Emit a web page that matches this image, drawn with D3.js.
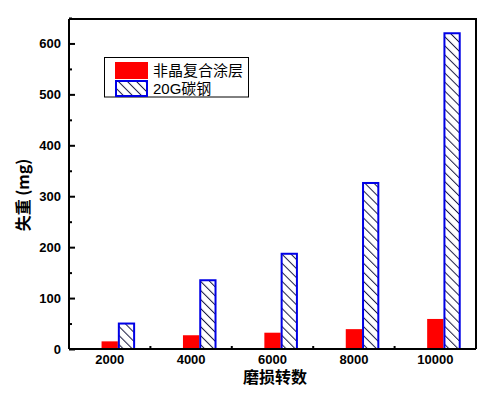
<!DOCTYPE html>
<html>
<head>
<meta charset="utf-8">
<script src="https://cdn.jsdelivr.net/npm/d3@7/dist/d3.min.js"></script>
<style>
  body { margin: 0; background: #fff; }
  text { font-family: "Liberation Sans", Arial, "Noto Sans CJK SC", sans-serif; }
</style>
</head>
<body>
<svg id="chart" width="496" height="395"></svg>
<script>
// wear rounds on the x axis
var categories = ["2000", "4000", "6000", "8000", "10000"];
// mass loss (mg)
var coating = [15, 27, 32, 39, 59];
var steel = [50, 135, 187, 326, 620];
var seriesNames = ["非晶复合涂层", "20G碳钢"];
var yTicks = [0, 100, 200, 300, 400, 500, 600];
var yMinor = [50, 150, 250, 350, 450, 550, 650];

var svg = d3.select("#chart"),
    pl = 69, pr = 476, pt = 19, pb = 349;

svg.append("rect").attr("width", 496).attr("height", 395).attr("fill", "#fff");

var defs = svg.append("defs");
var pat = defs.append("pattern")
    .attr("id", "hatch")
    .attr("patternUnits", "userSpaceOnUse")
    .attr("width", 6.4).attr("height", 6.4)
    .attr("patternTransform", "rotate(-45)");
pat.append("rect").attr("width", 6.4).attr("height", 6.4).attr("fill", "#fff");
pat.append("line").attr("x1", 0.5).attr("y1", 0).attr("x2", 0.5).attr("y2", 6.4)
    .attr("stroke", "#1a1a40").attr("stroke-width", 1);

var x = d3.scaleBand().domain(categories).range([pl, pr]);
var y = d3.scaleLinear().domain([0, 648]).range([pb, pt]);
var bw = x.bandwidth() * 0.2;

// bars
var g = svg.append("g");
g.selectAll("rect.coat")
    .data(coating)
  .enter().append("rect")
    .attr("class", "coat")
    .attr("x", function(d, i) { return x(categories[i]) + x.bandwidth() / 2 - bw / 2; })
    .attr("y", function(d) { return y(d); })
    .attr("width", bw)
    .attr("height", function(d) { return y(0) - y(d); })
    .attr("fill", "#ff0000");

g.selectAll("rect.steel")
    .data(steel)
  .enter().append("rect")
    .attr("class", "steel")
    .attr("x", function(d, i) { return x(categories[i]) + x.bandwidth() / 2 + bw / 2 + 1; })
    .attr("y", function(d) { return y(d); })
    .attr("width", bw - 1)
    .attr("height", function(d) { return y(0) - y(d); })
    .attr("fill", "url(#hatch)")
    .attr("stroke", "#0000e6")
    .attr("stroke-width", 2);

// frame top/right
svg.append("path")
    .attr("d", "M" + pl + "," + pt + "H" + pr + "V" + pb)
    .attr("fill", "none").attr("stroke", "#000").attr("stroke-width", 2);

// y axis
var yAxis = svg.append("g")
    .attr("transform", "translate(" + pl + ",0)")
    .call(d3.axisLeft(y).tickValues(yTicks).tickSize(-6).tickPadding(8));
yAxis.selectAll("text").attr("font-size", 13).attr("font-weight", "bold").attr("fill", "#000")
    .attr("font-family", "Liberation Sans, Arial, sans-serif");
yAxis.selectAll("line").attr("stroke-width", 2);
yAxis.select(".domain").attr("stroke-width", 2).attr("d", "M0," + pb + "V" + pt);

var yMin = svg.append("g")
    .attr("transform", "translate(" + pl + ",0)")
    .call(d3.axisLeft(y).tickValues(yMinor).tickSize(-3).tickFormat(""));
yMin.select(".domain").remove();
yMin.selectAll("line").attr("stroke-width", 2);

// x axis
var xAxis = svg.append("g")
    .attr("transform", "translate(0," + pb + ")")
    .call(d3.axisBottom(x).tickSize(0).tickPadding(6));
xAxis.selectAll("text").attr("font-size", 13).attr("font-weight", "bold").attr("fill", "#000")
    .attr("font-family", "Liberation Sans, Arial, sans-serif");
xAxis.select(".domain").attr("stroke-width", 2).attr("d", "M" + pl + ",0H" + pr);
xAxis.selectAll("line.sep")
    .data(categories.slice(1))
  .enter().append("line")
    .attr("class", "sep")
    .attr("x1", function(d) { return x(d); })
    .attr("x2", function(d) { return x(d); })
    .attr("y1", 0).attr("y2", -3)
    .attr("stroke", "#000").attr("stroke-width", 2);

// axis titles
svg.append("text")
    .attr("transform", "translate(29,195) rotate(-90)")
    .attr("text-anchor", "middle")
    .attr("font-size", 16).attr("font-weight", "bold")
    .style("font-family", "'Noto Sans CJK SC', sans-serif")
    .text("失重 (mg)");

svg.append("text")
    .attr("x", 275).attr("y", 383)
    .attr("text-anchor", "middle")
    .attr("font-size", 16).attr("font-weight", "bold")
    .style("font-family", "'Noto Sans CJK SC', sans-serif")
    .text("磨损转数");

// legend
var lg = svg.append("g");
lg.append("rect").attr("x", 104.5).attr("y", 57.5).attr("width", 144).attr("height", 39.5)
    .attr("fill", "#fff").attr("stroke", "#000").attr("stroke-width", 1);
lg.append("rect").attr("x", 115).attr("y", 62).attr("width", 33).attr("height", 17)
    .attr("fill", "#ff0000");
lg.append("rect").attr("x", 116).attr("y", 81).attr("width", 31).attr("height", 15)
    .attr("fill", "url(#hatch)").attr("stroke", "#0000e6").attr("stroke-width", 2);
lg.selectAll("text.lab")
    .data(seriesNames)
  .enter().append("text")
    .attr("class", "lab")
    .attr("x", 153)
    .attr("y", function(d, i) { return 76 + i * 18; })
    .attr("font-size", 15)
    .style("font-family", "'Liberation Sans', 'Noto Sans CJK SC', sans-serif")
    .text(function(d) { return d; });
</script>
</body>
</html>
